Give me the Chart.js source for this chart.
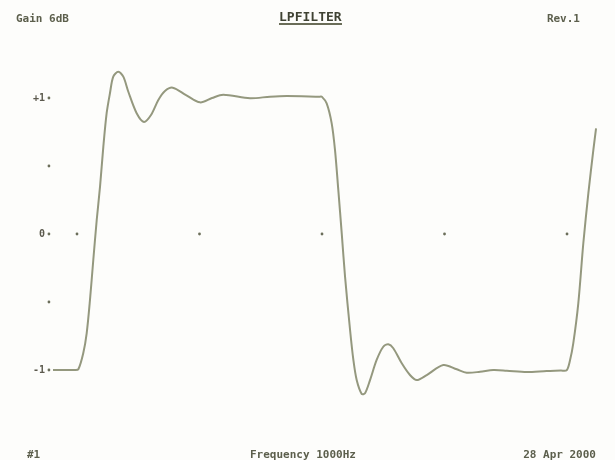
<!DOCTYPE html>
<html>
<head>
<meta charset="utf-8">
<script src="https://cdn.jsdelivr.net/npm/chart.js@4"></script>
<style>
    html, body { margin: 0; padding: 0; background: #fdfdfb; }
    #wrap { position: relative; width: 615px; height: 460px; }
    .lbl {
        position: absolute;
        font: bold 11px "DejaVu Sans Mono", "Liberation Mono", monospace;
        line-height: 11px;
        color: #5c5f4c;
        white-space: nowrap;
    }
    #title {
        font-size: 13px;
        line-height: 13px;
        color: #3f4233;
        border-bottom: 2px solid #6a6d58;
    }
</style>
</head>
<body>
<div id="wrap">
    <canvas id="filter-chart" width="615" height="460"></canvas>
    <div class="lbl" style="left:16px; top:13px;">Gain 6dB</div>
    <div class="lbl" id="title" style="left:279px; top:10px;">LPFILTER</div>
    <div class="lbl" style="right:35px; top:13px;">Rev.1</div>
    <div class="lbl" style="left:27px; top:449px;">#1</div>
    <div class="lbl" style="left:250px; top:449px;">Frequency 1000Hz</div>
    <div class="lbl" style="right:19px; top:449px;">28 Apr 2000</div>
</div>

<script>
/* ============================== DATA ============================== */
// response trace, x in grid divisions, y in gain units
const traceX = [
    -0.196, -0.098, -0.016, 0.011, 0.051, 0.079, 0.106, 0.133, 0.161, 0.188,
    0.215, 0.242, 0.269, 0.296, 0.337, 0.378, 0.419, 0.487, 0.547, 0.604,
    0.664, 0.718, 0.781, 0.890, 1.004, 1.102, 1.194, 1.412, 1.576, 1.712,
    1.984, 1.998, 2.038, 2.079, 2.106, 2.133, 2.161, 2.188, 2.229, 2.256,
    2.283, 2.324, 2.351, 2.392, 2.446, 2.500, 2.541, 2.582, 2.651, 2.718,
    2.773, 2.855, 2.990, 3.100, 3.181, 3.290, 3.398, 3.508, 3.671, 3.834,
    3.950, 3.997, 4.024, 4.051, 4.092, 4.133, 4.174, 4.215, 4.237
];
const traceY = [
    -1.000, -1.000, -1.000, -0.995, -0.877, -0.730, -0.485, -0.191, 0.103, 0.348,
    0.642, 0.888, 1.035, 1.157, 1.193, 1.157, 1.046, 0.888, 0.824, 0.875,
    0.985, 1.051, 1.076, 1.022, 0.968, 1.000, 1.024, 0.998, 1.010, 1.015,
    1.010, 1.010, 0.961, 0.814, 0.618, 0.324, 0.005, -0.314, -0.706, -0.926,
    -1.074, -1.176, -1.171, -1.074, -0.926, -0.829, -0.811, -0.840, -0.951, -1.037,
    -1.074, -1.037, -0.963, -0.995, -1.020, -1.013, -1.000, -1.005, -1.015, -1.007,
    -1.004, -1.002, -0.930, -0.804, -0.510, -0.068, 0.299, 0.618, 0.777
];

const yTickValues = [1, 0.5, 0, -0.5, -1];
const yTickLabels = ['+1', '', '0', '', '-1'];
const xGridValues = [0, 1, 2, 3, 4];
const yAxisX = -0.229;


/* ============================== PLUGINS ============================== */
const yLabelPlugin = {
    id: 'yLabelPlugin',
    afterDraw(chart) {
        const { ctx, scales } = chart;
        ctx.save();
        ctx.font = 'bold 10px "DejaVu Sans Mono", monospace';
        ctx.fillStyle = '#5c5a4e';
        ctx.textAlign = 'right';
        ctx.textBaseline = 'middle';
        const xp = scales.x.getPixelForValue(yAxisX) - 4;
        yTickValues.forEach(function(v, i) {
            if (yTickLabels[i]) {
                ctx.fillText(yTickLabels[i], xp, scales.y.getPixelForValue(v));
            }
        });
        ctx.restore();
    }
};


/* ============================== GRAPH ============================== */
function filterChart() {
    const ctx = document.getElementById('filter-chart').getContext('2d');

    const trace = traceX.map(function(x, i) { return { x: x, y: traceY[i] }; });
    const dots = yTickValues.map(function(v) { return { x: yAxisX, y: v }; })
        .concat(xGridValues.map(function(v) { return { x: v, y: 0 }; }));

    new Chart(ctx, {
        type: 'scatter',
        data: {
            datasets: [{
                data: trace,
                showLine: true,
                borderColor: 'rgb(148, 152, 126)',
                borderWidth: 2,
                pointRadius: 0,
                tension: 0.3,
                fill: false
            }, {
                data: dots,
                showLine: false,
                pointRadius: 1.4,
                pointBorderWidth: 0,
                pointBackgroundColor: '#6b6e5a'
            }]
        },
        options: {
            responsive: false,
            animation: false,
            layout: { padding: { left: 40, right: 10, top: 50, bottom: 42 } },
            scales: {
                x: { type: 'linear', min: -0.302, max: 4.310, display: false },
                y: { type: 'linear', min: -1.353, max: 1.353, display: false }
            },
            plugins: {
                legend: { display: false },
                tooltip: { enabled: false }
            }
        },
        plugins: [yLabelPlugin]
    });
}

filterChart();
</script>
</body>
</html>
